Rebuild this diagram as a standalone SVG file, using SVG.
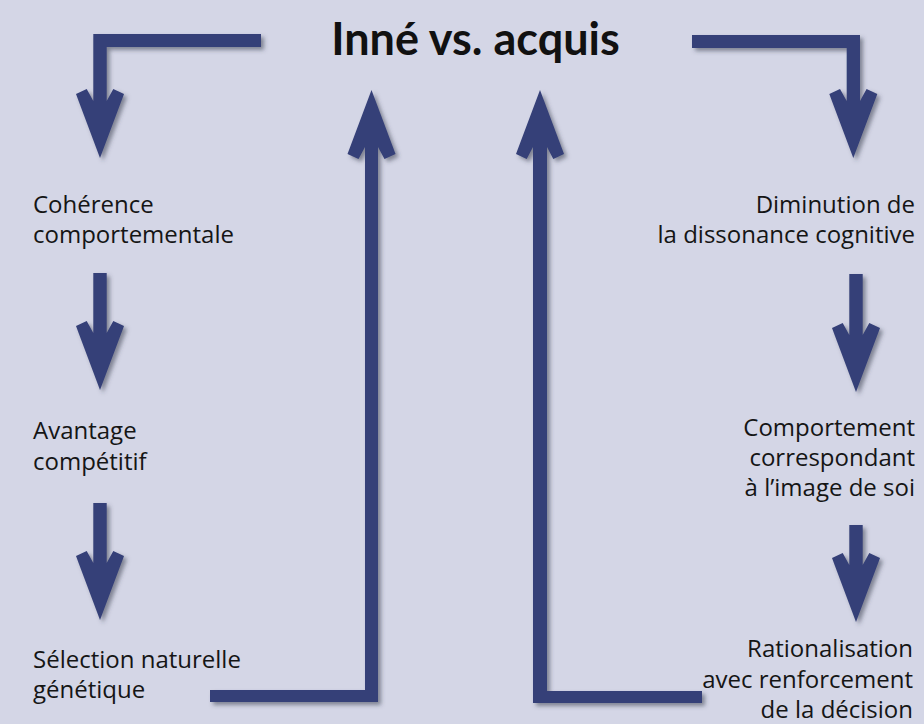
<svg xmlns="http://www.w3.org/2000/svg" width="924" height="724" viewBox="0 0 924 724">
<defs>
<filter id="sh" x="-20%" y="-20%" width="150%" height="150%">
<feDropShadow dx="3" dy="3" stdDeviation="2" flood-color="#3a3c50" flood-opacity="0.55"/>
</filter>
<style>
.ar{fill:#343f78;filter:url(#sh)}
.t{font-family:"Open Sans","Noto Sans",sans-serif;font-size:24px;fill:#151515}
.r{text-anchor:end}
.title{font-family:Lato,"Open Sans",sans-serif;font-size:45px;font-weight:bold;fill:#111;text-anchor:middle}
</style>
</defs>
<rect width="924" height="724" fill="#d4d6e6"/>
<g id="title"><text class="title" x="475.5" y="55">Inné vs. acquis</text></g>
<g id="connectors">
<path class="ar" d="M261,34 H93.3 V101 L86.7,89 L76,94 L100,158 L124,94 L113.3,89 L106.7,101 V47 H261 Z"/>
<path class="ar" d="M692,35 H860 V101 L866.6,89 L877.3,94 L853.3,158 L829.3,94 L840,89 L846.7,101 V48 H692 Z"/>
<path class="ar" d="M93.3,273 V333 L86.7,321 L76,326 L100,390 L124,326 L113.3,321 L106.7,333 V273 Z"/>
<path class="ar" d="M93.3,503 V563 L86.7,551 L76,556 L100,620 L124,556 L113.3,551 L106.7,563 V503 Z"/>
<path class="ar" d="M849.3,274 V335 L842.7,323 L832,328 L856,392 L880,328 L869.3,323 L862.7,335 V274 Z"/>
<path class="ar" d="M849.3,525 V565 L842.7,553 L832,558 L856,622 L880,558 L869.3,553 L862.7,565 V525 Z"/>
<path class="ar" d="M210,690 H365 V147 L358.5,159 L347.5,154 L371.5,90 L395.5,154 L384.5,159 L378,147 V702 H210 Z"/>
<path class="ar" d="M702,691 H547 V147 L553.3,159 L564,154 L540,90 L516,154 L526.7,159 L533,147 V703 H702 Z"/>
</g>
<g id="n1"><text class="t" x="33" y="213">Cohérence</text><text class="t" x="33" y="243">comportementale</text></g>
<g id="n2"><text class="t" x="33" y="439">Avantage</text><text class="t" x="33" y="470">compétitif</text></g>
<g id="n3"><text class="t" x="33" y="668">Sélection naturelle</text><text class="t" x="33" y="698">génétique</text></g>
<g id="n4"><text class="t r" x="915" y="213">Diminution de</text><text class="t r" x="915" y="243">la dissonance cognitive</text></g>
<g id="n5"><text class="t r" x="915" y="436">Comportement</text><text class="t r" x="915" y="466">correspondant</text><text class="t r" x="915" y="496">à l’image de soi</text></g>
<g id="n6"><text class="t r" x="913" y="657">Rationalisation</text><text class="t r" x="913" y="688">avec renforcement</text><text class="t r" x="913" y="718">de la décision</text></g>
</svg>
